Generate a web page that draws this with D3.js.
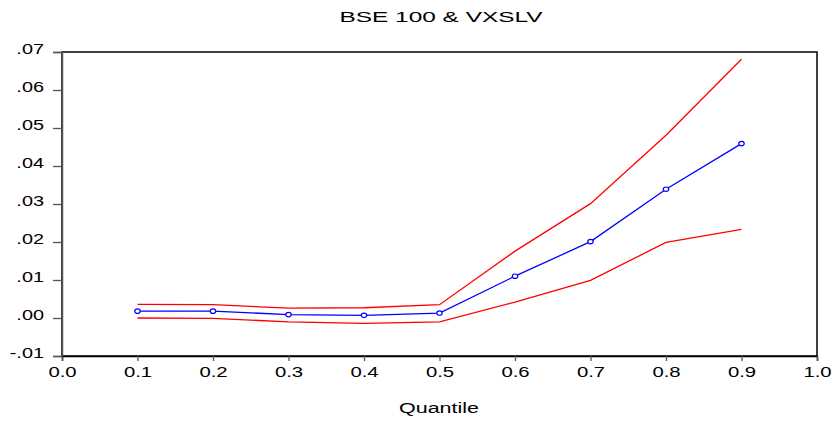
<!DOCTYPE html>
<html>
<head>
<meta charset="utf-8">
<script src="https://cdn.jsdelivr.net/npm/d3@7"></script>
<style>
  body { margin: 0; background: #fff; }
  text { font-family: "Liberation Sans", Arial, sans-serif; fill: #000; }
</style>
</head>
<body>
<svg id="chart" width="834" height="421"></svg>
<script>
// quantiles and estimated coefficients
const quantiles = [0.1, 0.2, 0.3, 0.4, 0.5, 0.6, 0.7, 0.8, 0.9];
const estimate = [0.0018, 0.0018, 0.0009, 0.0007, 0.0013, 0.0110, 0.0201, 0.0339, 0.0459];
const upperBand = [0.0036, 0.0035, 0.0026, 0.0027, 0.0035, 0.0176, 0.0301, 0.0481, 0.0681];
const lowerBand = [0.0000, -0.0001, -0.0010, -0.0014, -0.0010, 0.0042, 0.0099, 0.0199, 0.0233];
const xTicks = [0.0, 0.1, 0.2, 0.3, 0.4, 0.5, 0.6, 0.7, 0.8, 0.9, 1.0];
const yTicks = [-0.01, 0.00, 0.01, 0.02, 0.03, 0.04, 0.05, 0.06, 0.07];

const svg = d3.select("#chart");
const plotL = 62, plotR = 817, plotT = 52, plotB = 356;

const x = d3.scaleLinear().domain([0, 1]).range([plotL, plotR]);
const y = d3.scaleLinear().domain([-0.01, 0.07]).range([plotB, plotT]);

// the original uses a wide font, so stretch labels horizontally
function stretch(sel, ratio) {
  sel.each(function() {
    const w = this.getComputedTextLength();
    d3.select(this).attr("textLength", w * ratio).attr("lengthAdjust", "spacingAndGlyphs");
  });
}

// frame
svg.append("rect")
  .attr("x", plotL).attr("y", plotT)
  .attr("width", plotR - plotL).attr("height", plotB - plotT)
  .attr("fill", "none").attr("stroke", "#000").attr("stroke-width", 1.5);

// y axis
const fmtY = d => (d < 0 ? "-" : "") + "." + d3.format("02d")(Math.round(Math.abs(d) * 100));
const yAxis = svg.append("g")
  .attr("transform", `translate(${plotL},0)`)
  .call(d3.axisLeft(y).tickValues(yTicks).tickSize(9).tickPadding(9).tickFormat(fmtY));
yAxis.select(".domain").attr("stroke", "#555").attr("stroke-width", 1.5);
yAxis.selectAll(".tick line").attr("stroke", "#555").attr("stroke-width", 1.3);
yAxis.selectAll("text")
  .style("font-size", "14px")
  .style("font-family", "'Liberation Sans', Arial, sans-serif")
  .attr("dy", "1px")
  .call(stretch, 1.42);

// x axis
const xAxis = svg.append("g")
  .attr("transform", `translate(0,${plotB})`)
  .call(d3.axisBottom(x).tickValues(xTicks).tickSize(5).tickPadding(6).tickFormat(d3.format(".1f")));
xAxis.select(".domain").attr("stroke", "#000").attr("stroke-width", 1.5);
xAxis.selectAll(".tick line").attr("stroke", "#555").attr("stroke-width", 1.3);
xAxis.selectAll("text")
  .style("font-size", "14px")
  .style("font-family", "'Liberation Sans', Arial, sans-serif")
  .call(stretch, 1.45);

// lines
const line = d3.line().x((d, i) => x(quantiles[i])).y(d => y(d));

svg.append("path").datum(upperBand)
  .attr("d", line).attr("fill", "none").attr("stroke", "#ff0000").attr("stroke-width", 1.3);
svg.append("path").datum(lowerBand)
  .attr("d", line).attr("fill", "none").attr("stroke", "#ff0000").attr("stroke-width", 1.3);
svg.append("path").datum(estimate)
  .attr("d", line).attr("fill", "none").attr("stroke", "#0000ff").attr("stroke-width", 1.3);

svg.selectAll("ellipse.pt").data(estimate).enter().append("ellipse")
  .attr("class", "pt")
  .attr("cx", (d, i) => x(quantiles[i]))
  .attr("cy", d => y(d))
  .attr("rx", 2.7).attr("ry", 2.2)
  .attr("fill", "#fff").attr("stroke", "#0000ff").attr("stroke-width", 1.2);

// title and axis label
svg.append("text")
  .attr("x", 441).attr("y", 22)
  .attr("text-anchor", "middle")
  .attr("textLength", 203).attr("lengthAdjust", "spacingAndGlyphs")
  .style("font-size", "14.5px")
  .text("BSE 100 & VXSLV");

svg.append("text")
  .attr("x", 439).attr("y", 413)
  .attr("text-anchor", "middle")
  .attr("textLength", 80).attr("lengthAdjust", "spacingAndGlyphs")
  .style("font-size", "14px")
  .text("Quantile");
</script>
</body>
</html>
